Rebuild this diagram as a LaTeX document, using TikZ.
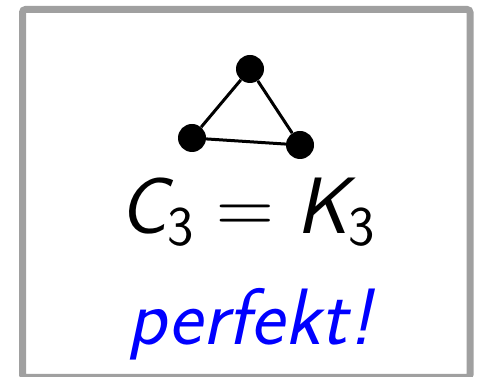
\RequirePackage{fix-cm}
\documentclass[tikz,border=0pt]{standalone}
\usepackage{xcolor}
\definecolor{framegray}{HTML}{A0A0A0}
\begin{document}
\begin{tikzpicture}[x=1pt,y=1pt,
  vertex/.style={circle,fill=black,inner sep=0pt,minimum size=28pt},
  edge/.style={line width=3pt},
  frame/.style={draw=framegray,line width=7pt,rounded corners=3pt}]
\useasboundingbox (0,0) rectangle (477,377);
\draw[frame] (22.5,-0.5) rectangle (470,367.5);
\node[vertex] (a) at (250,308) {};
\node[vertex] (b) at (192,239) {};
\node[vertex] (c) at (300,232) {};
\draw[edge] (a) -- (b) (b) -- (c) (c) -- (a);
\node[anchor=base,inner sep=0pt] (eq) at (247,143)
  {\fontsize{80}{96}\selectfont $\mbox{\sffamily\itshape C}_{\mbox{\fontsize{56}{67}\selectfont\sffamily 3}}=\mbox{\sffamily\itshape K}_{\mbox{\fontsize{56}{67}\selectfont\sffamily 3}}$};
\node[anchor=base,inner sep=0pt,text=blue] (pf) at (250,32)
  {\fontsize{80}{96}\selectfont\sffamily\itshape perfekt!};
\end{tikzpicture}
\end{document}
